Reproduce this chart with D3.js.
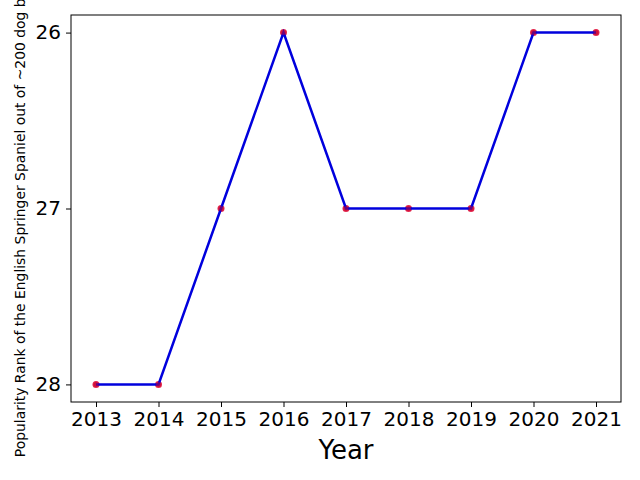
<!DOCTYPE html>
<html><head><meta charset="utf-8">
<script src="https://cdn.jsdelivr.net/npm/d3@7"></script>
<style>body{margin:0;background:#fff}svg{display:block}text{font-family:"DejaVu Sans",sans-serif}</style>
</head><body><svg id="c" width="640" height="480"></svg>
<script>
const years = [2013, 2014, 2015, 2016, 2017, 2018, 2019, 2020, 2021];
const ranks = [28, 28, 27, 26, 27, 27, 27, 26, 26];
const yTicks = [26, 27, 28];
const xLabel = "Year";
const yLabel = "Popularity Rank of the English Springer Spaniel out of ~200 dog breeds";

const svg = d3.select("#c");
const L = 71, R = 621, T = 15, B = 402;
const x = d3.scaleLinear().domain([2012.6, 2021.4]).range([L, R]);
const y = d3.scaleLinear().domain([25.9, 28.1]).range([T, B]);

svg.append("rect").attr("width", 640).attr("height", 480).attr("fill", "#fff");

const xa = svg.append("g").attr("transform", `translate(0,${B})`)
  .call(d3.axisBottom(x).tickValues(years).tickFormat(d3.format("d")).tickSize(5).tickPadding(5));
const ya = svg.append("g").attr("transform", `translate(${L},0)`)
  .call(d3.axisLeft(y).tickValues(yTicks).tickFormat(d3.format("d")).tickSize(5).tickPadding(5));
[xa, ya].forEach(g => {
  g.select(".domain").remove();
  g.selectAll("line").attr("stroke", "#000").attr("stroke-width", 1);
  g.selectAll("text").attr("fill", "#000").style("font-size", "20px").style("font-family", "DejaVu Sans");
});

svg.append("rect").attr("x", L).attr("y", T).attr("width", R - L).attr("height", B - T)
  .attr("fill", "none").attr("stroke", "#000").attr("stroke-width", 1);

const data = years.map((d, i) => ({yr: d, r: ranks[i]}));
svg.append("g").selectAll("circle").data(data).join("circle")
  .attr("cx", d => x(d.yr)).attr("cy", d => y(d.r)).attr("r", 3.5)
  .attr("fill", "#e0103a").attr("opacity", 0.9);
svg.append("path").datum(data)
  .attr("d", d3.line().x(d => x(d.yr)).y(d => y(d.r)))
  .attr("fill", "none").attr("stroke", "#0000dd").attr("stroke-width", 2.5);
svg.append("g").selectAll("circle").data(data).join("circle")
  .attr("cx", d => x(d.yr)).attr("cy", d => y(d.r)).attr("r", 2.5)
  .attr("fill", "#c00030").attr("opacity", 0.55);

svg.append("text").attr("x", (L + R) / 2).attr("y", 459).attr("text-anchor", "middle")
  .style("font-size", "26px").text(xLabel);
svg.append("text").attr("transform", `translate(25,${(T + B) / 2}) rotate(-90)`)
  .attr("text-anchor", "middle").style("font-size", "13.9px").text(yLabel);
</script></body></html>
